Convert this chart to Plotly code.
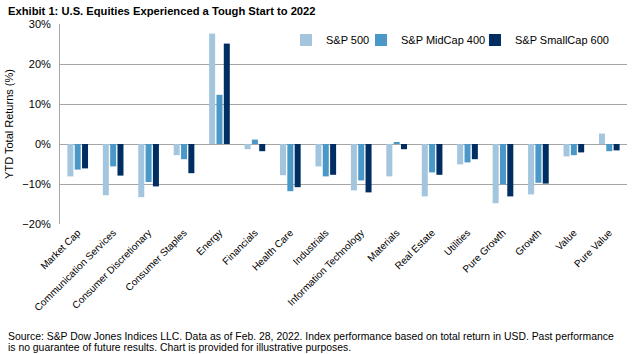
import plotly.graph_objects as go

categories = ["Market Cap", "Communication Services", "Consumer Discretionary", "Consumer Staples",
              "Energy", "Financials", "Health Care", "Industrials", "Information Technology",
              "Materials", "Real Estate", "Utilities", "Pure Growth", "Growth", "Value", "Pure Value"]
sp500 = [-8.1, -12.8, -13.3, -2.8, 27.6, -1.3, -7.8, -5.6, -11.6, -8.1, -13.1, -5.1, -14.8, -12.6, -3.1, 2.6]
mid400 = [-6.4, -5.6, -9.5, -3.8, 12.3, 1.1, -11.8, -8.1, -9.1, 0.3, -7.1, -4.6, -10.1, -9.7, -2.8, -1.8]
small600 = [-6.1, -7.9, -10.6, -7.3, 25.1, -1.8, -10.8, -7.7, -12.1, -1.3, -7.7, -3.8, -13.1, -9.9, -2.1, -1.6]
series_names = ["S&P 500", "S&P MidCap 400", "S&P SmallCap 600"]
colors = ["#A3C5DD", "#4A98C8", "#002D62"]
legend_ids = ["legend", "legend2", "legend3"]
legend_x = [0.3986, 0.5309, 0.7319]

FONT = "Liberation Sans, Arial, sans-serif"

fig = go.Figure()
for name, vals, c, lid in zip(series_names, [sp500, mid400, small600], colors, legend_ids):
    fig.add_trace(go.Bar(x=categories, y=vals, name=name, legend=lid,
                         marker=dict(color=c, line=dict(width=0))))

legend_common = dict(orientation="h", y=0.92, yanchor="middle", xanchor="left",
                     font=dict(size=11, family=FONT), bgcolor="rgba(0,0,0,0)")
layout_legends = {lid: dict(x=lx, **legend_common) for lid, lx in zip(legend_ids, legend_x)}

fig.update_layout(
    width=634, height=354,
    margin=dict(l=60, r=7, t=24, b=130),
    paper_bgcolor="white", plot_bgcolor="white",
    barmode="group", bargap=0.38, bargroupgap=0.18,
    font=dict(family=FONT, size=10, color="#000000"),
    showlegend=True,
    xaxis=dict(tickangle=-45, showgrid=False, showline=False, ticks="",
               tickfont=dict(family=FONT, size=10)),
    yaxis=dict(range=[-20, 30], dtick=10, ticksuffix="%", showgrid=True, gridcolor="#A6A6A6",
               gridwidth=1, zeroline=True, zerolinecolor="#A6A6A6", zerolinewidth=1,
               showline=True, linecolor="#A6A6A6", linewidth=1, ticks="",
               ticklabelstandoff=6,
               title=dict(text="YTD Total Returns (%)", font=dict(size=11), standoff=6),
               tickfont=dict(size=11)),
    **layout_legends,
)

fig.add_annotation(text="<b>Exhibit 1: U.S. Equities Experienced a Tough Start to 2022</b>",
                   xref="paper", yref="paper", x=-54/567, y=1 + 13/200, xanchor="left", yanchor="middle",
                   showarrow=False, font=dict(family=FONT, size=11.2))
source_lines = ["Source: S&P Dow Jones Indices LLC. Data as of Feb. 28, 2022. Index performance based on total return in USD. Past performance",
                "is no guarantee of future results. Chart is provided for illustrative purposes."]
for i, line in enumerate(source_lines):
    fig.add_annotation(text=line, xref="paper", yref="paper", x=-54/567, y=-(336 + 11 * i - 224) / 200,
                       xanchor="left", yanchor="middle", showarrow=False, align="left",
                       font=dict(family=FONT, size=10.4))

fig.write_html("out.html")
